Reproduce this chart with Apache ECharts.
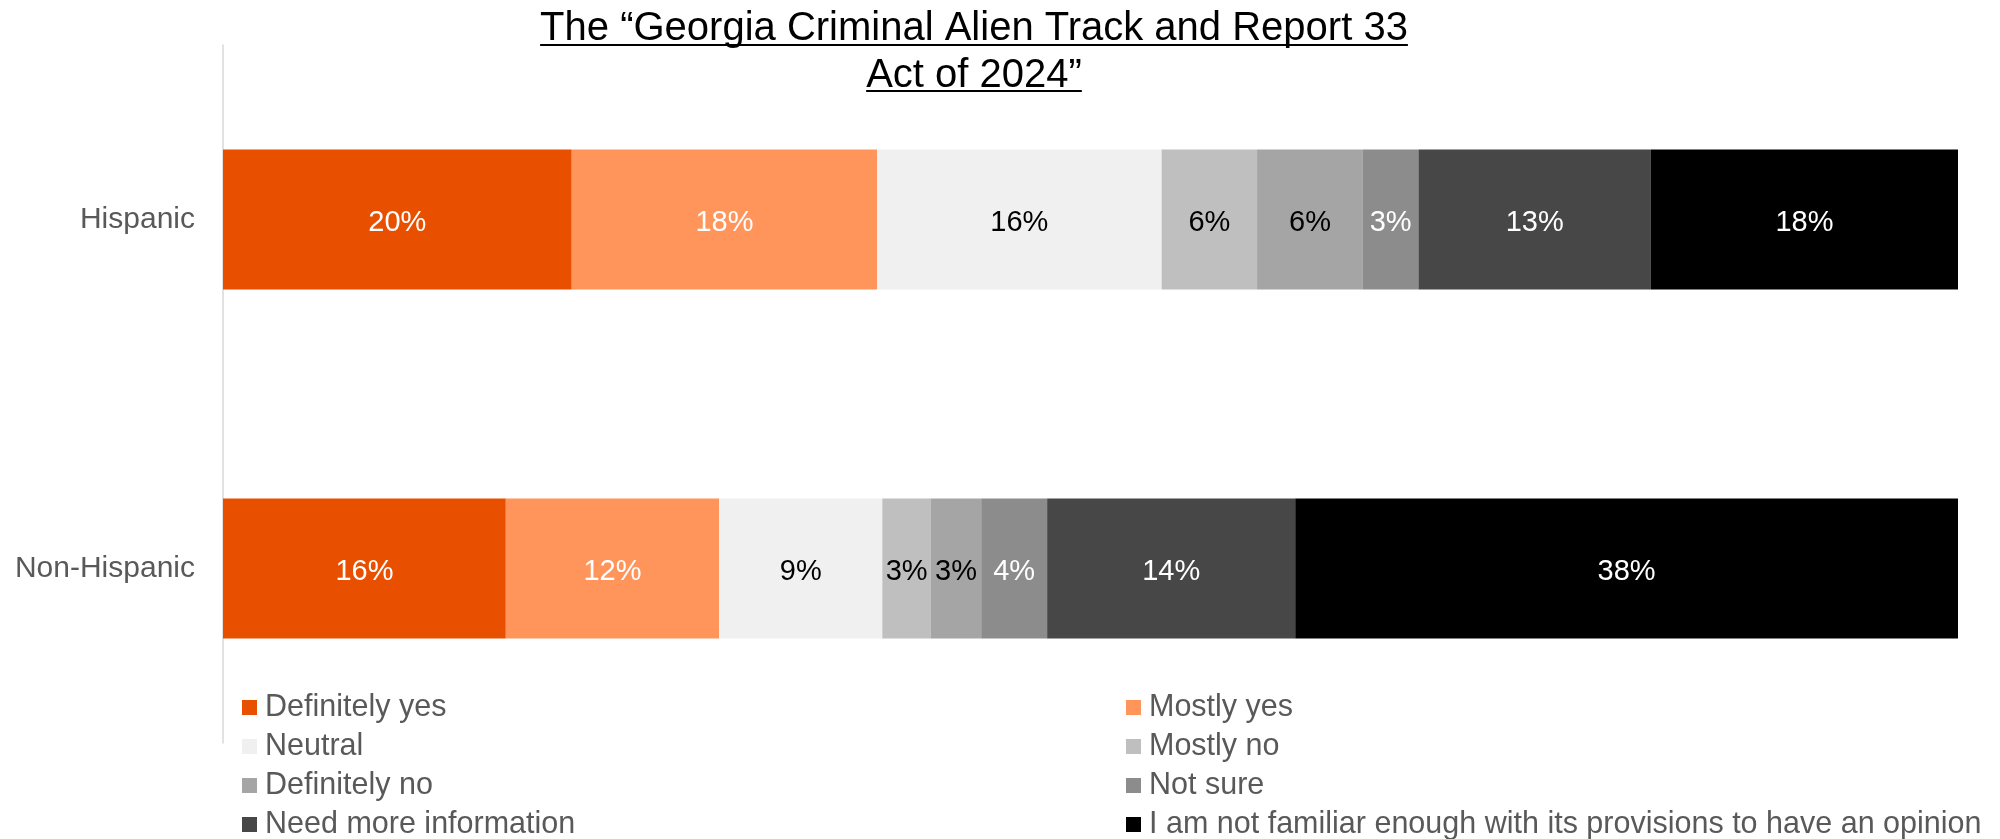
<!DOCTYPE html>
<html>
<head>
<meta charset="utf-8">
<script src="https://cdn.jsdelivr.net/npm/echarts@6/dist/echarts.min.js"></script>
<style>
html,body{margin:0;padding:0;background:#fff;}
#chart{width:2000px;height:839px;}
</style>
</head>
<body>
<div id="chart"></div>
<script>
const categories = ['Hispanic', 'Non-Hispanic'];
const seriesNames = ['Definitely yes', 'Mostly yes', 'Neutral', 'Mostly no', 'Definitely no', 'Not sure', 'Need more information', 'I am not familiar enough with its provisions to have an opinion'];
const definitelyYes = [20.1, 16.3];
const mostlyYes = [17.6, 12.3];
const neutral = [16.4, 9.4];
const mostlyNo = [5.5, 2.8];
const definitelyNo = [6.1, 2.9];
const notSure = [3.2, 3.8];
const needMore = [13.4, 14.3];
const notFamiliar = [17.7, 38.2];
const seriesValues = [definitelyYes, mostlyYes, neutral, mostlyNo, definitelyNo, notSure, needMore, notFamiliar];
const colors = ['#E85000', '#FF955A', '#F0F0F0', '#BFBFBF', '#A5A5A5', '#8C8C8C', '#474747', '#000000'];
const labelColors = ['#FFFFFF', '#FFFFFF', '#000000', '#000000', '#000000', '#FFFFFF', '#FFFFFF', '#FFFFFF'];
const titleLines = ['The \u201CGeorgia Criminal Alien Track and Report 33', 'Act of 2024\u201D'];

const FONT = '"Liberation Sans", Arial, sans-serif';
const chart = echarts.init(document.getElementById('chart'), null, {renderer: 'canvas'});

// title with underlines
const TITLE_SIZE = 40;
const TITLE_CX = 974;
const ctx = document.createElement('canvas').getContext('2d');
ctx.font = TITLE_SIZE + 'px ' + FONT;
const titleY = [29, 76];
const underlineY = [45, 91];
const graphics = [];
titleLines.forEach(function (t, i) {
  const w = ctx.measureText(t).width;
  graphics.push({
    type: 'text',
    x: TITLE_CX, y: titleY[i],
    style: {text: t, fill: '#000', font: TITLE_SIZE + 'px ' + FONT, textAlign: 'center', textVerticalAlign: 'middle'}
  });
  graphics.push({
    type: 'line',
    shape: {x1: TITLE_CX - w / 2, y1: underlineY[i], x2: TITLE_CX + w / 2, y2: underlineY[i]},
    style: {stroke: '#000', lineWidth: 2}
  });
});

const series = seriesNames.map(function (name, i) {
  return {
    name: name,
    type: 'bar',
    stack: 'total',
    barWidth: 140,
    data: seriesValues[i],
    itemStyle: {color: colors[i]},
    emphasis: {disabled: true},
    label: {
      show: true,
      position: 'inside',
      offset: [0, 3],
      color: labelColors[i],
      fontSize: 29,
      fontFamily: FONT,
      formatter: function (p) { return Math.round(p.value) + '%'; }
    }
  };
});

const legendBase = {
  orient: 'vertical',
  icon: 'rect',
  itemWidth: 15,
  itemHeight: 15,
  itemGap: 8,
  top: 687,
  height: 200,
  padding: 5,
  selectedMode: false,
  textStyle: {fontSize: 30.5, fontFamily: FONT, color: '#595959', lineHeight: 31, padding: [0, 0, 0, 3]}
};

chart.setOption({
  animation: false,
  backgroundColor: '#fff',
  textStyle: {fontFamily: FONT},
  graphic: graphics,
  legend: [
    Object.assign({}, legendBase, {left: 237, data: [seriesNames[0], seriesNames[2], seriesNames[4], seriesNames[6]]}),
    Object.assign({}, legendBase, {left: 1121, data: [seriesNames[1], seriesNames[3], seriesNames[5], seriesNames[7]]})
  ],
  grid: {left: 223, right: 42, top: 45, bottom: 96, containLabel: false},
  xAxis: {type: 'value', min: 0, max: 100, show: false},
  yAxis: {
    type: 'category',
    data: categories,
    inverse: true,
    axisTick: {show: false},
    axisLine: {show: true, lineStyle: {color: '#D9D9D9', width: 1.5}},
    axisLabel: {fontSize: 30, color: '#595959', margin: 28, fontFamily: FONT, padding: [8, 0, 0, 0]}
  },
  series: series
});
</script>
</body>
</html>
